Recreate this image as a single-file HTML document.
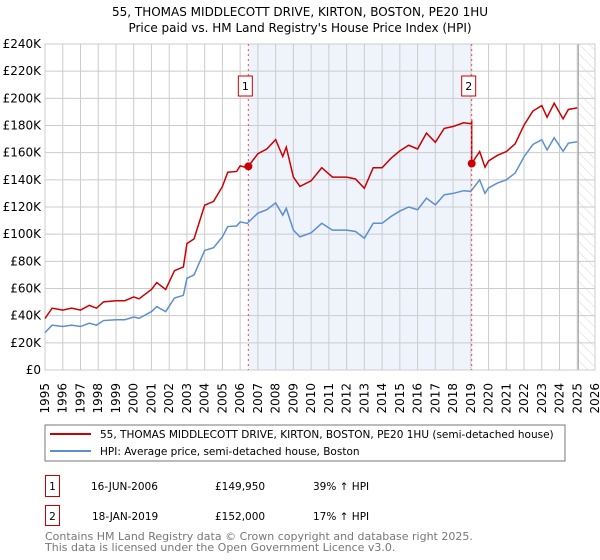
<!DOCTYPE html>
<html><head><meta charset="utf-8"><style>
body{margin:0;background:#fff;font-family:"DejaVu Sans","Liberation Sans",sans-serif;}
#wrap{position:relative;width:600px;height:560px;overflow:hidden;}
</style></head><body>
<div id="wrap">
<svg id="chart" width="600" height="560" xmlns="http://www.w3.org/2000/svg" font-family="DejaVu Sans, Liberation Sans, sans-serif">
<defs><pattern id="hatch" width="7" height="7" patternUnits="userSpaceOnUse" patternTransform="rotate(-45)"><line x1="0" y1="0" x2="0" y2="7" stroke="#ccc" stroke-width="0.8"/></pattern></defs>
<text x="300" y="16" text-anchor="middle" font-size="12">55, THOMAS MIDDLECOTT DRIVE, KIRTON, BOSTON, PE20 1HU</text>
<text x="300" y="32" text-anchor="middle" font-size="12">Price paid vs. HM Land Registry's House Price Index (HPI)</text>
<g id="plot"></g>
<rect x="45" y="425" width="520" height="36" fill="#fff" stroke="#777"/>
<line x1="50" y1="434" x2="91" y2="434" stroke="#cc0000" stroke-width="2"/>
<text x="100" y="438" font-size="10.5">55, THOMAS MIDDLECOTT DRIVE, KIRTON, BOSTON, PE20 1HU (semi-detached house)</text>
<line x1="50" y1="451" x2="91" y2="451" stroke="#5b8fd0" stroke-width="2"/>
<text x="100" y="455" font-size="10.5">HPI: Average price, semi-detached house, Boston</text>
<rect x="45.5" y="475.5" width="14" height="21" fill="none" stroke="#cc0000"/>
<text x="52.5" y="490" text-anchor="middle" font-size="10.5">1</text>
<text x="91" y="490" font-size="10.5">16-JUN-2006</text>
<text x="215" y="490" font-size="10.5">£149,950</text>
<text x="313" y="490" font-size="10.5">39% ↑ HPI</text>
<rect x="45.5" y="505.5" width="14" height="20" fill="none" stroke="#cc0000"/>
<text x="52.5" y="520" text-anchor="middle" font-size="10.5">2</text>
<text x="92" y="520" font-size="10.5">18-JAN-2019</text>
<text x="215" y="520" font-size="10.5">£152,000</text>
<text x="313" y="520" font-size="10.5">17% ↑ HPI</text>
<text x="45" y="540" font-size="11" fill="#777">Contains HM Land Registry data © Crown copyright and database right 2025.</text>
<text x="45" y="551" font-size="11" fill="#777">This data is licensed under the Open Government Licence v3.0.</text>
</svg></div>
<script>
const hpiYears=[1995.0,1995.4,1996.0,1996.5,1997.0,1997.5,1997.9,1998.3,1999.0,1999.5,2000.0,2000.3,2001.0,2001.3,2001.8,2002.3,2002.8,2003.0,2003.4,2004.0,2004.5,2005.0,2005.3,2005.8,2006.0,2006.4,2007.0,2007.5,2008.0,2008.4,2008.6,2009.0,2009.37,2010.0,2010.6,2011.2,2012.0,2012.5,2013.0,2013.5,2014.0,2014.5,2015.0,2015.5,2016.0,2016.5,2017.0,2017.5,2018.0,2018.6,2019.0,2019.5,2019.8,2020.0,2020.5,2021.0,2021.5,2022.0,2022.5,2023.0,2023.3,2023.7,2024.2,2024.5,2025.0];
const hpiValues=[27.5,33,32,33,32,34.5,33,36.4,37,37,39,38,43,46.7,43,53,55,67.5,70,88,90,98,105.6,106,109,108,115.5,118,123,114,119,103,98,101,108,103,103,102,97,108,108,113,117,120,118,126.5,121.6,129,130,132,131.5,140,130,134,137.6,140,145,157,166,169.5,162,171,161,167,168];
const sale1Year=2006.46, sale1Price=149.95;
const sale2Year=2019.05, sale2Price=152.0;
const yTicks=[0,20,40,60,80,100,120,140,160,180,200,220,240];
const xTicks=[1995,1996,1997,1998,1999,2000,2001,2002,2003,2004,2005,2006,2007,2008,2009,2010,2011,2012,2013,2014,2015,2016,2017,2018,2019,2020,2021,2022,2023,2024,2025,2026];

const L=45,R=595,T=44,B=370,x0=1995,x1=2026,yMax=240;
const X=v=>L+(v-x0)/(x1-x0)*(R-L);
const Y=v=>B-v/yMax*(B-T);
const NS="http://www.w3.org/2000/svg";
const g=document.getElementById('plot');
function mk(tag,attrs){const e=document.createElementNS(NS,tag);for(const k in attrs)e.setAttribute(k,attrs[k]);g.appendChild(e);return e;}

let e=mk('rect',{x:X(sale1Year),y:T,width:X(sale2Year)-X(sale1Year),height:B-T,fill:'#eef3fc'});


const lastYear=hpiYears[hpiYears.length-1];
e=mk('rect',{x:X(lastYear)+1,y:T,width:R-X(lastYear)-1,height:B-T,fill:'url(#hatch)'});


yTicks.forEach(t=>{
  let l=mk('line',{x1:L,x2:R,y1:Y(t),y2:Y(t),stroke:'#ccc'});
  
  
  let tx=mk('text',{x:L-4,y:Y(t)+4,'text-anchor':'end','font-size':'12'});
  tx.textContent=t===0?'£0':'£'+t+'K';
  
  
});
xTicks.forEach(t=>{
  let l=mk('line',{x1:X(t),x2:X(t),y1:T,y2:B,stroke:'#ccc'});
  
  
  let tx=mk('text',{x:0,y:0,'font-size':'12','text-anchor':'end',transform:`translate(${X(t)+4},${B+13}) rotate(-90)`});
  tx.textContent=t;
  
  
});
e=mk('line',{x1:X(lastYear)+1,x2:X(lastYear)+1,y1:T,y2:B,stroke:'#999'});


e=mk('rect',{x:L,y:T,width:R-L,height:B-T,fill:'none',stroke:'#ccc'});



function hpiAt(y){for(let i=1;i<hpiYears.length;i++){if(y<=hpiYears[i]){const a=hpiYears[i-1],b=hpiYears[i];return hpiValues[i-1]+(hpiValues[i]-hpiValues[i-1])*(y-a)/(b-a);}}return hpiValues[hpiValues.length-1];}
const k1=sale1Price/hpiAt(sale1Year), k2=sale2Price/hpiAt(sale2Year);
let bp=hpiYears.map((y,i)=>X(y)+','+Y(hpiValues[i])).join(' ');
e=mk('polyline',{points:bp,fill:'none',stroke:'#5b8fd0','stroke-width':1.5});


let rp=[];
hpiYears.forEach((y,i)=>{
  if(y<sale2Year)rp.push(X(y)+','+Y(hpiValues[i]*k1));
  if(y>=sale2Year&&hpiYears[i-1]<sale2Year){rp.push(X(sale2Year)+','+Y(hpiAt(sale2Year)*k1));rp.push(X(sale2Year)+','+Y(sale2Price));}
  if(y>=sale2Year)rp.push(X(y)+','+Y(hpiValues[i]*k2));
});
e=mk('polyline',{points:rp.join(' '),fill:'none',stroke:'#cc0000','stroke-width':1.5});


[[sale1Year,sale1Price,'1'],[sale2Year,sale2Price,'2']].forEach(s=>{
  let l=mk('line',{x1:X(s[0]),x2:X(s[0]),y1:T,y2:B,stroke:'#e05050','stroke-dasharray':'2,3','stroke-width':1});
  
  
  let c=mk('circle',{cx:X(s[0]),cy:Y(s[1]),r:4,fill:'#cc0000'});
  
  
  let r=mk('rect',{x:X(s[0])-10,y:76,width:14,height:20,fill:'#fff',stroke:'#cc0000'});
  
  
  let tx=mk('text',{x:X(s[0])-3,y:90,'text-anchor':'middle','font-size':'11'});
  tx.textContent=s[2];
  
  
});
</script>
</body></html>
